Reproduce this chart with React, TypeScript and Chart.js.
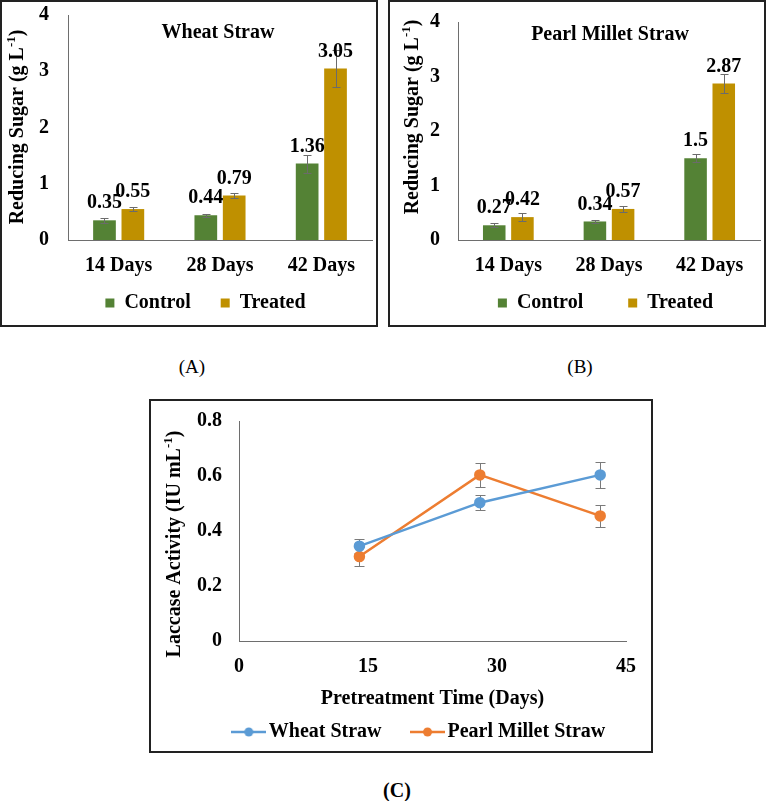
import React, { useEffect, useRef } from "react";
import { Chart, registerables } from "chart.js";

Chart.register(...registerables);

// ---------- data ----------
const barCategories = ["14 Days", "28 Days", "42 Days"];
const barYTicks = [0, 1, 2, 3, 4];

const wheatControl = [0.35, 0.44, 1.36];
const wheatTreated = [0.55, 0.79, 3.05];
const wheatControlErr = [0.04, 0.03, 0.16];
const wheatTreatedErr = [0.03, 0.05, 0.33];

const milletControl = [0.27, 0.34, 1.5];
const milletTreated = [0.42, 0.57, 2.87];
const milletControlErr = [0.04, 0.02, 0.07];
const milletTreatedErr = [0.08, 0.05, 0.18];

const laccaseDays = [14, 28, 42];
const laccaseWheat = [0.345, 0.503, 0.604];
const laccaseMillet = [0.307, 0.604, 0.455];
const laccaseWheatErr = [0.025, 0.028, 0.046];
const laccaseMilletErr = [0.034, 0.045, 0.04];
const laccaseXTicks = [0, 15, 30, 45];
const laccaseYTicks = [0, 0.2, 0.4, 0.6, 0.8];

// ---------- styles ----------
const FONT = '"Liberation Serif", "Times New Roman", serif';
const GREEN = "#548235";
const GOLD = "#BF9000";
const BLUE = "#5B9BD5";
const ORANGE = "#ED7D31";
const AXIS = "#6e6e6e";
const ERR = "#6b6b6b";

const boldFont = (size: number) => ({ family: FONT, size, weight: "bold" as const });

// ---------- plugins ----------
function drawErrors(chart: any, opts: any) {
  const ctx = chart.ctx;
  ctx.save();
  ctx.strokeStyle = opts.color || ERR;
  ctx.lineWidth = 1;
  const cap = opts.cap || 4;
  chart.data.datasets.forEach((ds: any, i: number) => {
    const errs = ds.errors;
    if (!errs) return;
    const meta = chart.getDatasetMeta(i);
    const ys = chart.scales[meta.yAxisID];
    meta.data.forEach((el: any, j: number) => {
      const raw = ds.data[j];
      const v = typeof raw === "number" ? raw : raw.y;
      const e = errs[j];
      const x = Math.round(el.x) + 0.5;
      const y1 = Math.round(ys.getPixelForValue(v + e)) + 0.5;
      const y2 = Math.round(ys.getPixelForValue(v - e)) + 0.5;
      ctx.beginPath();
      ctx.moveTo(x, y1);
      ctx.lineTo(x, y2);
      ctx.moveTo(x - cap, y1);
      ctx.lineTo(x + cap, y1);
      ctx.moveTo(x - cap, y2);
      ctx.lineTo(x + cap, y2);
      ctx.stroke();
    });
  });
  ctx.restore();
}

const errorBarPlugin = {
  id: "errorBars",
  beforeDatasetsDraw(chart: any, _a: any, opts: any) {
    if (opts && opts.before) drawErrors(chart, opts);
  },
  afterDatasetsDraw(chart: any, _a: any, opts: any) {
    if (!opts || !opts.before) drawErrors(chart, opts || {});
  },
};

const valueLabelPlugin = {
  id: "valueLabels",
  afterDatasetsDraw(chart: any, _a: any, opts: any) {
    if (!opts || !opts.show) return;
    const ctx = chart.ctx;
    ctx.save();
    ctx.font = `bold 20px ${FONT}`;
    ctx.fillStyle = "#000";
    ctx.textAlign = "center";
    ctx.textBaseline = "middle";
    chart.data.datasets.forEach((ds: any, i: number) => {
      const meta = chart.getDatasetMeta(i);
      meta.data.forEach((el: any, j: number) => {
        ctx.fillText(String(ds.data[j]), el.x, el.y - 17);
      });
    });
    ctx.restore();
  },
};

// moves the built-in legend to a fixed place (its text centre line and horizontal shift)
const legendPlacePlugin = {
  id: "legendPlace",
  afterLayout(chart: any, _a: any, opts: any) {
    const lg = chart.legend;
    if (!lg || !opts) return;
    const p = chart.options.plugins.legend.labels.padding;
    const h = lg.bottom - lg.top;
    if (opts.dx) {
      lg.left += opts.dx;
      lg.right += opts.dx;
    }
    if (opts.textY != null) {
      lg.top = opts.textY - p - 10;
      lg.bottom = lg.top + h;
    }
  },
};

function drawRotatedSupTitle(ctx: any, cx: number, cy: number, main: string, sup: string, tail: string) {
  ctx.save();
  ctx.translate(cx, cy);
  ctx.rotate(-Math.PI / 2);
  const f = `bold 20px ${FONT}`;
  const fs = `bold 13px ${FONT}`;
  ctx.font = f;
  const w1 = ctx.measureText(main).width;
  const w3 = ctx.measureText(tail).width;
  ctx.font = fs;
  const w2 = ctx.measureText(sup).width;
  let x = -(w1 + w2 + w3) / 2;
  ctx.fillStyle = "#000";
  ctx.textAlign = "left";
  ctx.textBaseline = "middle";
  ctx.font = f;
  ctx.fillText(main, x, 0);
  x += w1;
  ctx.font = fs;
  ctx.fillText(sup, x, -6);
  x += w2;
  ctx.font = f;
  ctx.fillText(tail, x, 0);
  ctx.restore();
}

const panelTextPlugin = {
  id: "panelText",
  afterDraw(chart: any, _a: any, opts: any) {
    const ctx = chart.ctx;
    if (opts.title) {
      ctx.save();
      ctx.font = `bold 20px ${FONT}`;
      ctx.fillStyle = "#000";
      ctx.textAlign = "center";
      ctx.textBaseline = "middle";
      ctx.fillText(opts.title.text, opts.title.x, opts.title.y);
      ctx.restore();
    }
    if (opts.yTitle) {
      const t = opts.yTitle;
      drawRotatedSupTitle(ctx, t.x, t.y, t.main, t.sup, t.tail);
    }
  },
};

const noPadY = (w: number) => (s: any) => {
  s.width = w;
  s.paddingTop = 0;
  s.paddingBottom = 0;
};
const noPadX = (h: number) => (s: any) => {
  s.height = h;
  s.paddingLeft = 0;
  s.paddingRight = 0;
};

// ---------- configs ----------
type BarLayout = {
  padT: number;
  yW: number;
  xH: number;
  legendPad: number;
  legendDx: number;
  legendY: number;
  yTickPad: number;
  title: { text: string; x: number; y: number };
  yTitle: { x: number; y: number };
};

function makeBarConfig(
  control: number[],
  treated: number[],
  cErr: number[],
  tErr: number[],
  lay: BarLayout
): any {
  return {
    type: "bar",
    data: {
      labels: barCategories,
      datasets: [
        { label: "Control", data: control, backgroundColor: GREEN, borderWidth: 0, errors: cErr },
        { label: "Treated", data: treated, backgroundColor: GOLD, borderWidth: 0, errors: tErr },
      ],
    },
    options: {
      animation: false,
      responsive: false,
      devicePixelRatio: 1,
      layout: { padding: { left: 0, right: 3, top: lay.padT, bottom: 0 } },
      datasets: { bar: { categoryPercentage: 0.56, barPercentage: 0.8 } },
      scales: {
        x: {
          grid: { display: false, drawTicks: false },
          border: { display: true, color: AXIS, width: 1 },
          ticks: { font: boldFont(20), color: "#000", padding: 14, maxRotation: 0, autoSkip: false },
          afterFit: noPadX(lay.xH),
        },
        y: {
          min: 0,
          max: 4,
          grid: { display: false, drawTicks: false },
          border: { display: true, color: AXIS, width: 1 },
          ticks: { font: boldFont(20), color: "#000", padding: lay.yTickPad },
          afterBuildTicks: (s: any) => {
            s.ticks = barYTicks.map((v) => ({ value: v }));
          },
          afterFit: noPadY(lay.yW),
        },
      },
      plugins: {
        legend: {
          position: "bottom",
          labels: {
            boxWidth: 9,
            boxHeight: 9,
            padding: lay.legendPad,
            font: boldFont(20),
            color: "#000",
          },
        },
        tooltip: { enabled: false },
        title: { display: false },
        errorBars: { before: false, cap: 4, color: ERR },
        valueLabels: { show: true },
        legendPlace: { dx: lay.legendDx, textY: lay.legendY },
        panelText: {
          title: lay.title,
          yTitle: { main: "Reducing Sugar (g L", sup: "-1", tail: ")", x: lay.yTitle.x, y: lay.yTitle.y },
        },
      },
    },
    plugins: [errorBarPlugin, valueLabelPlugin, legendPlacePlugin, panelTextPlugin],
  };
}

function legendLineImage(color: string) {
  const c = document.createElement("canvas");
  c.width = 35;
  c.height = 12;
  const g = c.getContext("2d")!;
  g.strokeStyle = color;
  g.lineWidth = 2.5;
  g.beginPath();
  g.moveTo(0, 6);
  g.lineTo(35, 6);
  g.stroke();
  g.fillStyle = color;
  g.beginPath();
  g.arc(17.5, 6, 4.5, 0, Math.PI * 2);
  g.fill();
  return c;
}

function makeLineConfig(): any {
  const imgs = [legendLineImage(BLUE), legendLineImage(ORANGE)];
  const pts = (ys: number[]) => laccaseDays.map((d, i) => ({ x: d, y: ys[i] }));
  return {
    type: "line",
    data: {
      datasets: [
        {
          label: "Wheat Straw",
          data: pts(laccaseWheat),
          borderColor: BLUE,
          backgroundColor: BLUE,
          pointBackgroundColor: BLUE,
          pointBorderColor: BLUE,
          pointRadius: 4.5,
          borderWidth: 2.5,
          tension: 0,
          fill: false,
          errors: laccaseWheatErr,
        },
        {
          label: "Pearl Millet Straw",
          data: pts(laccaseMillet),
          borderColor: ORANGE,
          backgroundColor: ORANGE,
          pointBackgroundColor: ORANGE,
          pointBorderColor: ORANGE,
          pointRadius: 4.5,
          borderWidth: 2.5,
          tension: 0,
          fill: false,
          errors: laccaseMilletErr,
        },
      ],
    },
    options: {
      animation: false,
      responsive: false,
      devicePixelRatio: 1,
      layout: { padding: { left: 0, right: 25, top: 20, bottom: 0 } },
      scales: {
        x: {
          type: "linear",
          min: 0,
          max: 45,
          grid: { display: false, drawTicks: false },
          border: { display: true, color: AXIS, width: 1 },
          ticks: { font: boldFont(20), color: "#000", padding: 14, maxRotation: 0 },
          afterBuildTicks: (s: any) => {
            s.ticks = laccaseXTicks.map((v) => ({ value: v }));
          },
          title: {
            display: true,
            text: "Pretreatment Time (Days)",
            font: boldFont(20),
            color: "#000",
            padding: { top: 0, bottom: 0 },
          },
          afterFit: noPadX(70),
        },
        y: {
          min: 0,
          max: 0.8,
          grid: { display: false, drawTicks: false },
          border: { display: true, color: AXIS, width: 1 },
          ticks: {
            font: boldFont(20),
            color: "#000",
            padding: 17,
            callback: (v: any) => (Number(v) === 0 ? "0" : Number(v).toFixed(1)),
          },
          afterBuildTicks: (s: any) => {
            s.ticks = laccaseYTicks.map((v) => ({ value: v }));
          },
          afterFit: noPadY(88),
        },
      },
      plugins: {
        legend: {
          position: "bottom",
          labels: {
            usePointStyle: true,
            pointStyleWidth: 20,
            padding: 36,
            font: boldFont(20),
            color: "#000",
            generateLabels: (chart: any) => {
              const items = Chart.defaults.plugins.legend.labels.generateLabels(chart);
              return items.map((it: any, i: number) => ({ ...it, pointStyle: imgs[i] }));
            },
          },
        },
        tooltip: { enabled: false },
        title: { display: false },
        errorBars: { before: true, cap: 5, color: "#7a7a7a" },
        valueLabels: { show: false },
        legendPlace: { dx: 33.5, textY: 331 },
        panelText: {
          yTitle: { main: "Laccase Activity (IU mL", sup: "-1", tail: ")", x: 24, y: 143 },
        },
      },
    },
    plugins: [errorBarPlugin, valueLabelPlugin, legendPlacePlugin, panelTextPlugin],
  };
}

// ---------- components ----------
function ChartCanvas(props: { make: () => any; left: number; top: number; width: number; height: number }) {
  const ref = useRef<HTMLCanvasElement | null>(null);
  useEffect(() => {
    if (!ref.current) return;
    const chart = new Chart(ref.current, props.make());
    return () => chart.destroy();
  }, []);
  return (
    <canvas
      ref={ref}
      width={props.width}
      height={props.height}
      style={{
        position: "absolute",
        left: props.left,
        top: props.top,
        width: props.width,
        height: props.height,
      }}
    />
  );
}

function Box(props: { left: number; top: number; width: number; height: number }) {
  return (
    <div
      style={{
        position: "absolute",
        left: props.left,
        top: props.top,
        width: props.width,
        height: props.height,
        border: "2px solid #222",
        boxSizing: "border-box",
        pointerEvents: "none",
      }}
    />
  );
}

function Caption(props: { text: string; cx: number; cy: number; bold?: boolean; size: number }) {
  return (
    <div
      style={{
        position: "absolute",
        left: props.cx - 50,
        top: props.cy - 12,
        width: 100,
        height: 24,
        lineHeight: "24px",
        textAlign: "center",
        fontFamily: FONT,
        fontSize: props.size,
        fontWeight: props.bold ? "bold" : "normal",
        color: "#000",
      }}
    >
      {props.text}
    </div>
  );
}

export default function App() {
  const layA: BarLayout = {
    padT: 12,
    yW: 65,
    xH: 38,
    legendPad: 30,
    legendDx: 18,
    legendY: 300,
    yTickPad: 19,
    title: { text: "Wheat Straw", x: 215, y: 30 },
    yTitle: { x: 15, y: 124 },
  };
  const layB: BarLayout = {
    padT: 19,
    yW: 67,
    xH: 38,
    legendPad: 45,
    legendDx: 30,
    legendY: 300,
    yTickPad: 18,
    title: { text: "Pearl Millet Straw", x: 219, y: 32 },
    yTitle: { x: 22, y: 114 },
  };
  return (
    <div
      style={{
        position: "absolute",
        left: 0,
        top: 0,
        width: 767,
        height: 801,
        background: "#fff",
        overflow: "hidden",
      }}
    >
      <ChartCanvas
        make={() => makeBarConfig(wheatControl, wheatTreated, wheatControlErr, wheatTreatedErr, layA)}
        left={3}
        top={3}
        width={372}
        height={335}
      />
      <ChartCanvas
        make={() => makeBarConfig(milletControl, milletTreated, milletControlErr, milletTreatedErr, layB)}
        left={391}
        top={3}
        width={372}
        height={350}
      />
      <ChartCanvas make={makeLineConfig} left={151} top={401} width={500} height={376} />
      <Box left={0} top={0} width={378} height={327} />
      <Box left={388} top={0} width={378} height={327} />
      <Box left={149} top={399} width={504} height={354} />
      <Caption text="(A)" cx={192} cy={367} size={19} />
      <Caption text="(B)" cx={580} cy={367} size={19} />
      <Caption text="(C)" cx={397} cy={790} size={20} bold />
    </div>
  );
}
